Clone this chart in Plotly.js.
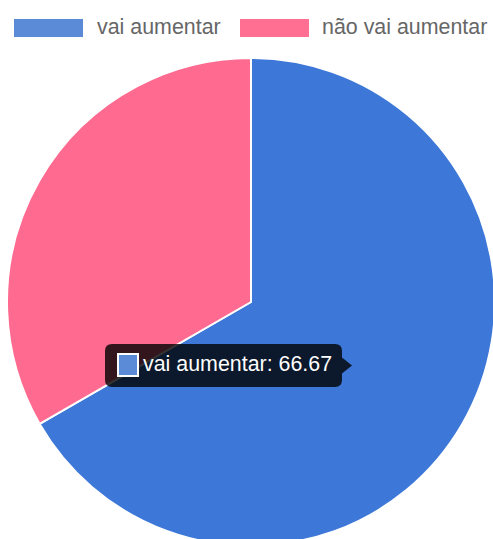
<!DOCTYPE html>
<html>
<head>
<meta charset="utf-8">
<script src="https://cdn.plot.ly/plotly-3.0.1.min.js"></script>
<style>
html,body{margin:0;padding:0;overflow:hidden;background:#fff;}
#chart{width:500px;height:560px;}
</style>
</head>
<body>
<div id="chart"></div>
<script>
// ---- data ----
const labels = ["vai aumentar", "não vai aumentar"];
const values = [66.67, 33.33];
const sliceColors = ["#3d78d8", "#ff6b90"];
const legendColors = ["#5b8ad6", "#ff6f91"];
const tooltipIndex = 0;

// ---- layout helpers (pixel -> paper) ----
const W = 500, H = 560;
const px = x => x / W;
const py = y => 1 - y / H;

const cx = 251, cy = 302, r = 244;

const trace = {
  type: "pie",
  labels: labels,
  values: values,
  sort: false,
  direction: "clockwise",
  rotation: 0,
  textinfo: "none",
  hoverinfo: "none",
  showlegend: false,
  marker: {colors: sliceColors, line: {color: "#ffffff", width: 2}},
  domain: {x: [px(cx - r), px(cx + r)], y: [py(cy + r), py(cy - r)]}
};

const shapes = [];
const annotations = [];

// legend (custom, Chart.js style)
const legendItems = [
  {box: [14, 19, 83, 37], textX: 95},
  {box: [240, 19, 309, 37], textX: 320}
];
labels.forEach((lab, i) => {
  const it = legendItems[i];
  shapes.push({type: "rect", xref: "paper", yref: "paper",
    x0: px(it.box[0]), x1: px(it.box[2]), y0: py(it.box[3]), y1: py(it.box[1]),
    fillcolor: legendColors[i], line: {width: 0}});
  annotations.push({xref: "paper", yref: "paper", x: px(it.textX), y: py(27),
    xanchor: "left", yanchor: "middle", showarrow: false, text: lab,
    font: {family: "Liberation Sans, Arial, sans-serif", size: 21.4, color: "#666666"}});
});

// tooltip
const tx0 = 105, tx1 = 342, ty0 = 344, ty1 = 387, rad = 7, tipX = 352, tipY = 365.5;
const P = (x, y) => px(x) + "," + py(y);
const tipPath = "M " + P(tx0 + rad, ty0) +
  " L " + P(tx1 - rad, ty0) + " Q " + P(tx1, ty0) + " " + P(tx1, ty0 + rad) +
  " L " + P(tx1, tipY - 8) + " L " + P(tipX, tipY) + " L " + P(tx1, tipY + 8) +
  " L " + P(tx1, ty1 - rad) + " Q " + P(tx1, ty1) + " " + P(tx1 - rad, ty1) +
  " L " + P(tx0 + rad, ty1) + " Q " + P(tx0, ty1) + " " + P(tx0, ty1 - rad) +
  " L " + P(tx0, ty0 + rad) + " Q " + P(tx0, ty0) + " " + P(tx0 + rad, ty0) + " Z";
shapes.push({type: "path", xref: "paper", yref: "paper", path: tipPath,
  fillcolor: "rgba(0,0,0,0.8)", line: {width: 0}});
shapes.push({type: "rect", xref: "paper", yref: "paper",
  x0: px(118), x1: px(138), y0: py(376), y1: py(354),
  fillcolor: legendColors[tooltipIndex], line: {color: "#ffffff", width: 2}});
annotations.push({xref: "paper", yref: "paper", x: px(141), y: py(364),
  xanchor: "left", yanchor: "middle", showarrow: false,
  text: labels[tooltipIndex] + ": " + values[tooltipIndex].toFixed(2),
  font: {family: "Liberation Sans, Arial, sans-serif", size: 21.4, color: "#ffffff"}});

const layout = {
  width: W, height: H,
  margin: {l: 0, r: 0, t: 0, b: 0},
  paper_bgcolor: "#ffffff",
  showlegend: false,
  shapes: shapes,
  annotations: annotations
};

Plotly.newPlot("chart", [trace], layout, {displayModeBar: false, staticPlot: true});
</script>
</body>
</html>
